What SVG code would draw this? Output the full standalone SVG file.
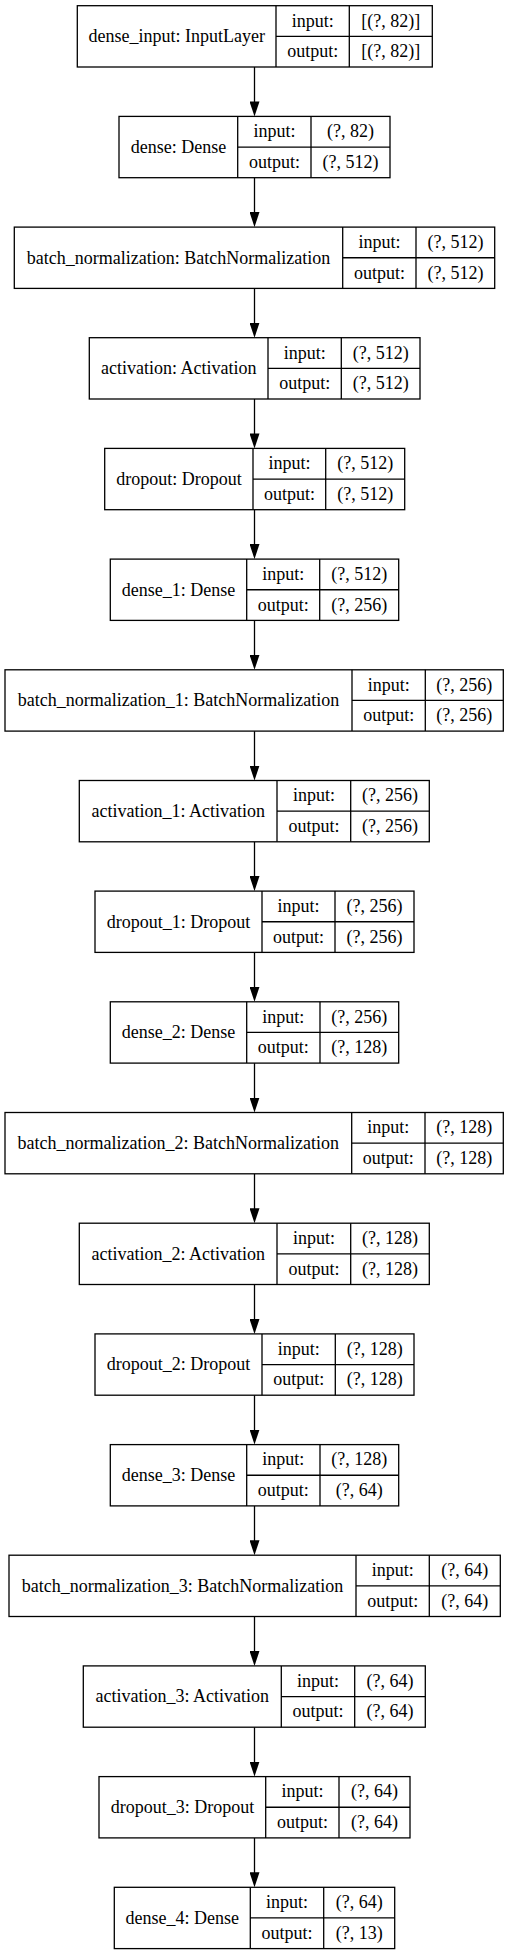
<svg xmlns="http://www.w3.org/2000/svg" width="509" height="1955" viewBox="0 0 509 1955">
<style>
.box{fill:#fff;stroke:#000;stroke-width:1.3}
.ln{stroke:#000;stroke-width:1.3;fill:none}
text{font-family:"Liberation Serif","Times New Roman",serif;font-size:18px;fill:#000;text-anchor:middle}
.edge{stroke:#000;stroke-width:1.3;fill:none;marker-end:url(#ah)}
</style>
<defs>
<marker id="ah" markerUnits="userSpaceOnUse" viewBox="0 0 15 10" markerWidth="15" markerHeight="10" refX="1" refY="5" orient="auto">
<path d="M0,0 L15,5 L0,10 z" fill="#000"/>
</marker>
</defs>
<rect width="509" height="1955" fill="#fff"/>
<g id="connectors">
<line class="edge" x1="254.5" y1="67" x2="254.5" y2="102.4"/>
<line class="edge" x1="254.5" y1="177.7" x2="254.5" y2="213.1"/>
<line class="edge" x1="254.5" y1="288.4" x2="254.5" y2="323.7"/>
<line class="edge" x1="254.5" y1="399" x2="254.5" y2="434.4"/>
<line class="edge" x1="254.5" y1="509.7" x2="254.5" y2="545.1"/>
<line class="edge" x1="254.5" y1="620.4" x2="254.5" y2="655.8"/>
<line class="edge" x1="254.5" y1="731.1" x2="254.5" y2="766.5"/>
<line class="edge" x1="254.5" y1="841.8" x2="254.5" y2="877.1"/>
<line class="edge" x1="254.5" y1="952.4" x2="254.5" y2="987.8"/>
<line class="edge" x1="254.5" y1="1063.1" x2="254.5" y2="1098.5"/>
<line class="edge" x1="254.5" y1="1173.8" x2="254.5" y2="1209.2"/>
<line class="edge" x1="254.5" y1="1284.5" x2="254.5" y2="1319.9"/>
<line class="edge" x1="254.5" y1="1395.2" x2="254.5" y2="1430.6"/>
<line class="edge" x1="254.5" y1="1505.9" x2="254.5" y2="1541.2"/>
<line class="edge" x1="254.5" y1="1616.5" x2="254.5" y2="1651.9"/>
<line class="edge" x1="254.5" y1="1727.2" x2="254.5" y2="1762.6"/>
<line class="edge" x1="254.5" y1="1837.9" x2="254.5" y2="1873.3"/>
</g>
<g id="n0" transform="translate(0,5.7)">
<rect class="box" x="77.3" y="0" width="355" height="61.3"/>
<path class="ln" d="M276,0V61.3M349.3,0V61.3M276,30.65H432.3"/>
<text x="176.7" y="36.6">dense_input: InputLayer</text>
<text x="312.7" y="20.9">input:</text><text x="390.8" y="20.9">[(?, 82)]</text>
<text x="312.7" y="51.6">output:</text><text x="390.8" y="51.6">[(?, 82)]</text>
</g>
<g id="n1" transform="translate(0,116.4)">
<rect class="box" x="119" y="0" width="271" height="61.3"/>
<path class="ln" d="M237.7,0V61.3M311,0V61.3M237.7,30.65H390"/>
<text x="178.4" y="36.6">dense: Dense</text>
<text x="274.4" y="20.9">input:</text><text x="350.5" y="20.9">(?, 82)</text>
<text x="274.4" y="51.6">output:</text><text x="350.5" y="51.6">(?, 512)</text>
</g>
<g id="n2" transform="translate(0,227.1)">
<rect class="box" x="14.3" y="0" width="480.4" height="61.3"/>
<path class="ln" d="M342.7,0V61.3M416,0V61.3M342.7,30.65H494.7"/>
<text x="178.5" y="36.6">batch_normalization: BatchNormalization</text>
<text x="379.4" y="20.9">input:</text><text x="455.4" y="20.9">(?, 512)</text>
<text x="379.4" y="51.6">output:</text><text x="455.4" y="51.6">(?, 512)</text>
</g>
<g id="n3" transform="translate(0,337.7)">
<rect class="box" x="89.3" y="0" width="330.7" height="61.3"/>
<path class="ln" d="M268,0V61.3M341.3,0V61.3M268,30.65H420"/>
<text x="178.7" y="36.6">activation: Activation</text>
<text x="304.7" y="20.9">input:</text><text x="380.7" y="20.9">(?, 512)</text>
<text x="304.7" y="51.6">output:</text><text x="380.7" y="51.6">(?, 512)</text>
</g>
<g id="n4" transform="translate(0,448.4)">
<rect class="box" x="104.7" y="0" width="300" height="61.3"/>
<path class="ln" d="M253,0V61.3M325.7,0V61.3M253,30.65H404.7"/>
<text x="178.9" y="36.6">dropout: Dropout</text>
<text x="289.4" y="20.9">input:</text><text x="365.2" y="20.9">(?, 512)</text>
<text x="289.4" y="51.6">output:</text><text x="365.2" y="51.6">(?, 512)</text>
</g>
<g id="n5" transform="translate(0,559.1)">
<rect class="box" x="110.3" y="0" width="288.4" height="61.3"/>
<path class="ln" d="M246.7,0V61.3M319.7,0V61.3M246.7,30.65H398.7"/>
<text x="178.5" y="36.6">dense_1: Dense</text>
<text x="283.2" y="20.9">input:</text><text x="359.2" y="20.9">(?, 512)</text>
<text x="283.2" y="51.6">output:</text><text x="359.2" y="51.6">(?, 256)</text>
</g>
<g id="n6" transform="translate(0,669.8)">
<rect class="box" x="5" y="0" width="498.3" height="61.3"/>
<path class="ln" d="M352,0V61.3M425.3,0V61.3M352,30.65H503.3"/>
<text x="178.5" y="36.6">batch_normalization_1: BatchNormalization</text>
<text x="388.7" y="20.9">input:</text><text x="464.3" y="20.9">(?, 256)</text>
<text x="388.7" y="51.6">output:</text><text x="464.3" y="51.6">(?, 256)</text>
</g>
<g id="n7" transform="translate(0,780.5)">
<rect class="box" x="79.3" y="0" width="350" height="61.3"/>
<path class="ln" d="M277,0V61.3M350.7,0V61.3M277,30.65H429.3"/>
<text x="178.2" y="36.6">activation_1: Activation</text>
<text x="313.9" y="20.9">input:</text><text x="390" y="20.9">(?, 256)</text>
<text x="313.9" y="51.6">output:</text><text x="390" y="51.6">(?, 256)</text>
</g>
<g id="n8" transform="translate(0,891.1)">
<rect class="box" x="95" y="0" width="319" height="61.3"/>
<path class="ln" d="M262,0V61.3M335,0V61.3M262,30.65H414"/>
<text x="178.5" y="36.6">dropout_1: Dropout</text>
<text x="298.5" y="20.9">input:</text><text x="374.5" y="20.9">(?, 256)</text>
<text x="298.5" y="51.6">output:</text><text x="374.5" y="51.6">(?, 256)</text>
</g>
<g id="n9" transform="translate(0,1001.8)">
<rect class="box" x="110.3" y="0" width="288.4" height="61.3"/>
<path class="ln" d="M246.7,0V61.3M320,0V61.3M246.7,30.65H398.7"/>
<text x="178.5" y="36.6">dense_2: Dense</text>
<text x="283.3" y="20.9">input:</text><text x="359.3" y="20.9">(?, 256)</text>
<text x="283.3" y="51.6">output:</text><text x="359.3" y="51.6">(?, 128)</text>
</g>
<g id="n10" transform="translate(0,1112.5)">
<rect class="box" x="5" y="0" width="498.3" height="61.3"/>
<path class="ln" d="M351.7,0V61.3M425,0V61.3M351.7,30.65H503.3"/>
<text x="178.3" y="36.6">batch_normalization_2: BatchNormalization</text>
<text x="388.3" y="20.9">input:</text><text x="464.2" y="20.9">(?, 128)</text>
<text x="388.3" y="51.6">output:</text><text x="464.2" y="51.6">(?, 128)</text>
</g>
<g id="n11" transform="translate(0,1223.2)">
<rect class="box" x="79.3" y="0" width="350" height="61.3"/>
<path class="ln" d="M277,0V61.3M350.7,0V61.3M277,30.65H429.3"/>
<text x="178.2" y="36.6">activation_2: Activation</text>
<text x="313.9" y="20.9">input:</text><text x="390" y="20.9">(?, 128)</text>
<text x="313.9" y="51.6">output:</text><text x="390" y="51.6">(?, 128)</text>
</g>
<g id="n12" transform="translate(0,1333.9)">
<rect class="box" x="95" y="0" width="319" height="61.3"/>
<path class="ln" d="M262,0V61.3M335.3,0V61.3M262,30.65H414"/>
<text x="178.5" y="36.6">dropout_2: Dropout</text>
<text x="298.7" y="20.9">input:</text><text x="374.7" y="20.9">(?, 128)</text>
<text x="298.7" y="51.6">output:</text><text x="374.7" y="51.6">(?, 128)</text>
</g>
<g id="n13" transform="translate(0,1444.6)">
<rect class="box" x="110.3" y="0" width="288.4" height="61.3"/>
<path class="ln" d="M246.7,0V61.3M320,0V61.3M246.7,30.65H398.7"/>
<text x="178.5" y="36.6">dense_3: Dense</text>
<text x="283.3" y="20.9">input:</text><text x="359.3" y="20.9">(?, 128)</text>
<text x="283.3" y="51.6">output:</text><text x="359.3" y="51.6">(?, 64)</text>
</g>
<g id="n14" transform="translate(0,1555.2)">
<rect class="box" x="9" y="0" width="491.3" height="61.3"/>
<path class="ln" d="M356,0V61.3M429.3,0V61.3M356,30.65H500.3"/>
<text x="182.5" y="36.6">batch_normalization_3: BatchNormalization</text>
<text x="392.7" y="20.9">input:</text><text x="464.8" y="20.9">(?, 64)</text>
<text x="392.7" y="51.6">output:</text><text x="464.8" y="51.6">(?, 64)</text>
</g>
<g id="n15" transform="translate(0,1665.9)">
<rect class="box" x="83.3" y="0" width="342" height="61.3"/>
<path class="ln" d="M281.3,0V61.3M354.7,0V61.3M281.3,30.65H425.3"/>
<text x="182.3" y="36.6">activation_3: Activation</text>
<text x="318" y="20.9">input:</text><text x="390" y="20.9">(?, 64)</text>
<text x="318" y="51.6">output:</text><text x="390" y="51.6">(?, 64)</text>
</g>
<g id="n16" transform="translate(0,1776.6)">
<rect class="box" x="99" y="0" width="311" height="61.3"/>
<path class="ln" d="M265.7,0V61.3M339,0V61.3M265.7,30.65H410"/>
<text x="182.4" y="36.6">dropout_3: Dropout</text>
<text x="302.4" y="20.9">input:</text><text x="374.5" y="20.9">(?, 64)</text>
<text x="302.4" y="51.6">output:</text><text x="374.5" y="51.6">(?, 64)</text>
</g>
<g id="n17" transform="translate(0,1887.3)">
<rect class="box" x="114.3" y="0" width="280.4" height="61.3"/>
<path class="ln" d="M250.3,0V61.3M323.7,0V61.3M250.3,30.65H394.7"/>
<text x="182.3" y="36.6">dense_4: Dense</text>
<text x="287" y="20.9">input:</text><text x="359.2" y="20.9">(?, 64)</text>
<text x="287" y="51.6">output:</text><text x="359.2" y="51.6">(?, 13)</text>
</g>
</svg>
